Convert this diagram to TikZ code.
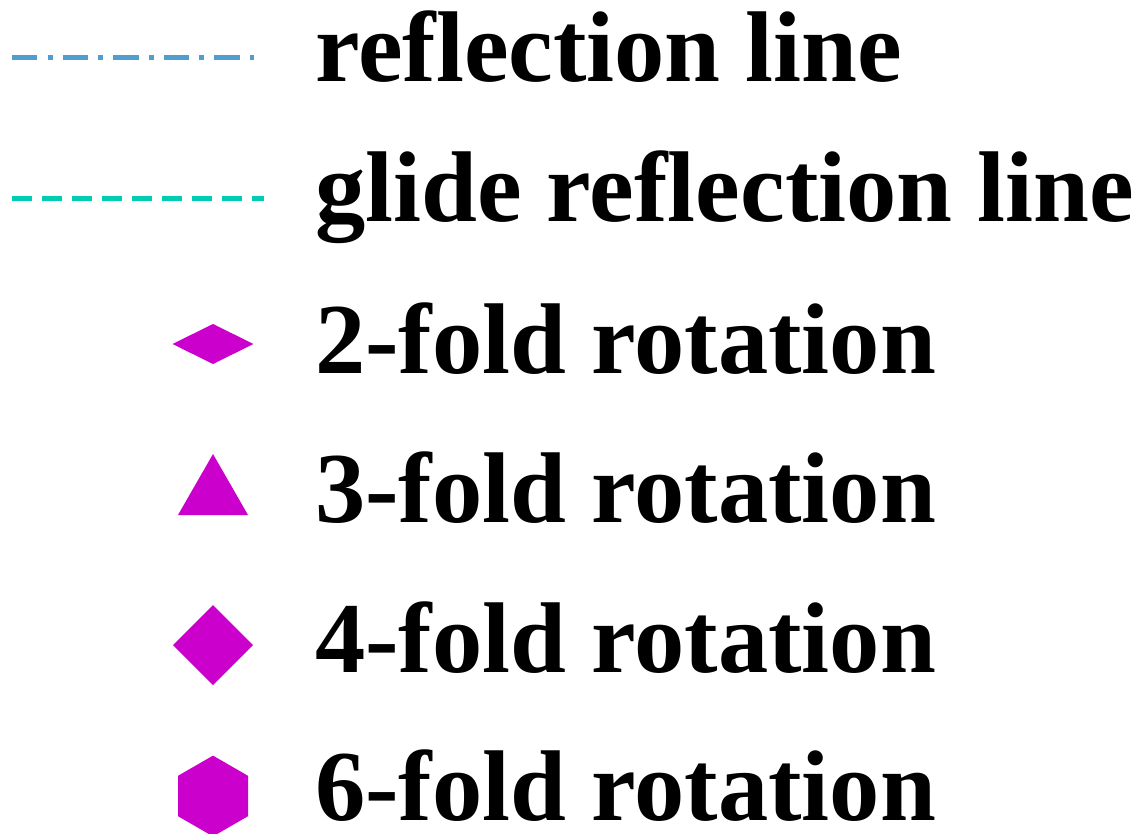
\documentclass[tikz,border=0pt]{standalone}
\usepackage{fontspec}
\setmainfont{Liberation Serif}
\definecolor{reflcol}{RGB}{80,158,208}
\definecolor{glidecol}{RGB}{0,204,180}
\definecolor{rotcol}{RGB}{204,0,204}
\tikzset{
    lbl/.style={anchor=base west, inner sep=0pt, font=\fontsize{100.5}{110}\selectfont\bfseries},
    rot/.style={fill=rotcol, draw=none}
}

\begin{document}
\begin{tikzpicture}[x=1pt, y=-1pt]
    \useasboundingbox (0, 0) rectangle (1140, 834);
    % lines
    \draw[reflcol, line width=5pt, dash pattern=on 25.3pt off 10.3pt on 5pt off 10pt]
	(12, 58) -- (254, 58);
    \draw[glidecol, line width=5pt, dash pattern=on 20.3pt off 9.7pt]
	(12, 199) -- (264, 199);
    % rotation symbols
    \fill[rot] (172.5, 344) -- (213, 324) -- (253.5, 344) -- (213, 364) -- cycle;
    \fill[rot] (213, 454) -- (248, 515) -- (178, 515) -- cycle;
    \fill[rot] (173, 645) -- (213, 605) -- (253, 645) -- (213, 685) -- cycle;
    \fill[rot] (213, 755.6) -- (248, 775.8) -- (248, 816.2) -- (213, 836.4)
	-- (178, 816.2) -- (178, 775.8) -- cycle;
    % labels
    \node[lbl] (refl) at (315, 82) {reflection line};
    \node[lbl] (glide) at (315, 222) {glide reflection line};
    \node[lbl] (two) at (315, 373) {2-fold rotation};
    \node[lbl] (three) at (315, 522) {3-fold rotation};
    \node[lbl] (four) at (315, 672) {4-fold rotation};
    \node[lbl] (six) at (315, 820) {6-fold rotation};
\end{tikzpicture}
\end{document}
